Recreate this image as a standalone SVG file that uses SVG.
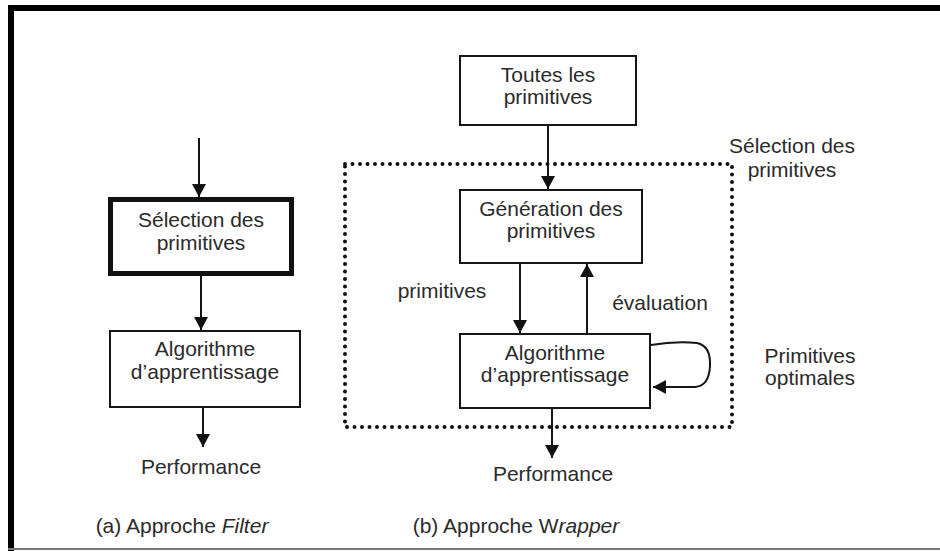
<svg xmlns="http://www.w3.org/2000/svg" width="940" height="551" viewBox="0 0 940 551">
<defs>
<style>
.t{font-family:"Liberation Sans",Arial,sans-serif;font-size:21px;fill:#2b2b2b;text-anchor:middle}
.box{fill:#fff;stroke:#151515;stroke-width:2}
.ln{fill:none;stroke:#151515;stroke-width:2}
</style>
<marker id="ah" markerUnits="userSpaceOnUse" markerWidth="14" markerHeight="14" viewBox="0 0 14 14" refX="13" refY="7" orient="auto">
<path d="M0,0 L13,7 L0,14 Z" fill="#111"/>
</marker>
</defs>
<rect width="940" height="551" fill="#fff"/>
<g id="frame">
<path d="M11,551 V8 H940" fill="none" stroke="#000" stroke-width="6"/>
<line x1="8" y1="549" x2="940" y2="549" stroke="#777" stroke-width="2"/>
</g>
<g id="connectors">
<line class="ln" x1="199" y1="138" x2="199" y2="197" marker-end="url(#ah)"/>
<line class="ln" x1="201" y1="276" x2="201" y2="330" marker-end="url(#ah)"/>
<line class="ln" x1="203" y1="408" x2="203" y2="447" marker-end="url(#ah)"/>
<line class="ln" x1="548" y1="126" x2="548" y2="189" marker-end="url(#ah)"/>
<line class="ln" x1="520" y1="264" x2="520" y2="333" marker-end="url(#ah)"/>
<line class="ln" x1="587" y1="333" x2="587" y2="264" marker-end="url(#ah)"/>
<line class="ln" x1="552" y1="409" x2="552" y2="458" marker-end="url(#ah)"/>
<path class="ln" d="M651,345 Q675,341 697,343 Q711,346 710,366 Q709,386 695,387 L653,387" marker-end="url(#ah)"/>
</g>
<g id="selection-zone">
<rect x="345" y="164" width="387" height="263" fill="none" stroke="#111" stroke-width="4" stroke-linecap="round" stroke-dasharray="0 7.5"/>
</g>
<g id="filter-selection">
<rect x="110.5" y="199.5" width="181" height="74" fill="#fff" stroke="#111" stroke-width="5"/>
<text class="t" x="201" y="227">Sélection des</text>
<text class="t" x="201" y="250">primitives</text>
</g>
<g id="filter-algo">
<rect class="box" x="110" y="331" width="190" height="76"/>
<text class="t" x="205" y="356">Algorithme</text>
<text class="t" x="205" y="379">d’apprentissage</text>
</g>
<g id="filter-perf">
<text class="t" x="201" y="474">Performance</text>
</g>
<g id="wrapper-all">
<rect class="box" x="460" y="56" width="176" height="69"/>
<text class="t" x="548" y="82">Toutes les</text>
<text class="t" x="548" y="104">primitives</text>
</g>
<g id="wrapper-gen">
<rect class="box" x="460" y="190" width="182" height="73"/>
<text class="t" x="551" y="216">Génération des</text>
<text class="t" x="551" y="238">primitives</text>
</g>
<g id="wrapper-algo">
<rect class="box" x="460" y="334" width="190" height="74"/>
<text class="t" x="555" y="360">Algorithme</text>
<text class="t" x="555" y="382">d’apprentissage</text>
</g>
<g id="labels">
<text class="t" x="442" y="298">primitives</text>
<text class="t" x="660" y="310">évaluation</text>
<text class="t" x="792" y="153">Sélection des</text>
<text class="t" x="792" y="177">primitives</text>
<text class="t" x="810" y="363">Primitives</text>
<text class="t" x="810" y="385">optimales</text>
<text class="t" x="553" y="481">Performance</text>
<text class="t" x="182" y="533">(a) Approche <tspan font-style="italic">Filter</tspan></text>
<text class="t" x="516" y="533">(b) Approche W<tspan font-style="italic">rapper</tspan></text>
</g>
</svg>
